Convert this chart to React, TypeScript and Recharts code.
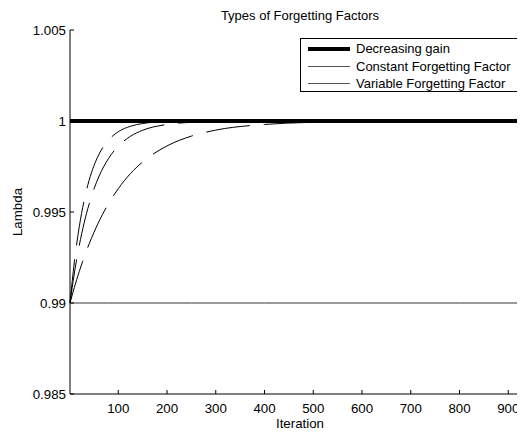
import React from "react";
import { LineChart, Line, XAxis, YAxis } from "recharts";

// iteration sample points
const iterations = [1, 10, 20, 30, 40, 50, 60, 80, 100, 125, 150, 200, 250, 300, 400, 500, 600, 700, 800, 900, 1000];
const decreasingGain = [1, 1, 1, 1, 1, 1, 1, 1, 1, 1, 1, 1, 1, 1, 1, 1, 1, 1, 1, 1, 1];
const constantFF = [0.99, 0.99, 0.99, 0.99, 0.99, 0.99, 0.99, 0.99, 0.99, 0.99, 0.99, 0.99, 0.99, 0.99, 0.99, 0.99, 0.99, 0.99, 0.99, 0.99, 0.99];
const variableFast = [0.99, 0.99227, 0.99419, 0.99563, 0.99672, 0.99753, 0.99815, 0.99895, 0.99941, 0.99971, 0.99986, 0.99997, 1, 1, 1, 1, 1, 1, 1, 1, 1];
const variableMid = [0.99, 0.99165, 0.99316, 0.9944, 0.99542, 0.99625, 0.99693, 0.99794, 0.99862, 0.99916, 0.99949, 0.99981, 0.99993, 0.99998, 1, 1, 1, 1, 1, 1, 1];
const variableSlow = [0.99, 0.99086, 0.99173, 0.99252, 0.99323, 0.99387, 0.99446, 0.99546, 0.99628, 0.99711, 0.99775, 0.99863, 0.99917, 0.9995, 0.99981, 0.99993, 0.99998, 1, 1, 1, 1];

const xTicks = [100, 200, 300, 400, 500, 600, 700, 800, 900];
const yTicks = [0.985, 0.99, 0.995, 1, 1.005];
const yTickLabels = ["0.985", "0.99", "0.995", "1", "1.005"];
const legendNames = ["Decreasing gain", "Constant Forgetting Factor", "Variable Forgetting Factor"];

const data = iterations.map((it, i) => ({
  it,
  gain: decreasingGain[i],
  constant: constantFF[i],
  fast: variableFast[i],
  mid: variableMid[i],
  slow: variableSlow[i],
}));

const FONT = "'Liberation Sans', Arial, sans-serif";
const FS = 13.3;
const PLOT_LEFT = 62;
const PLOT_BOTTOM = 386;

const YTick = (props: any) => {
  const { y, payload } = props;
  const idx = yTicks.indexOf(payload.value);
  return (
    <g>
      <line x1={PLOT_LEFT} x2={PLOT_LEFT + 4} y1={y} y2={y} stroke="#000" />
      <text x={PLOT_LEFT - 4} y={y} dy={4.5} textAnchor="end" fontSize={FS} fontFamily={FONT} fill="#000">
        {idx >= 0 ? yTickLabels[idx] : payload.value}
      </text>
    </g>
  );
};

const XTick = (props: any) => {
  const { x, payload } = props;
  return (
    <g>
      <line x1={x} x2={x} y1={PLOT_BOTTOM} y2={PLOT_BOTTOM - 4} stroke="#000" />
      <text x={x} y={PLOT_BOTTOM + 19} textAnchor="middle" fontSize={FS} fontFamily={FONT} fill="#000">
        {payload.value}
      </text>
    </g>
  );
};

const LegendBox = () => (
  <div
    style={{
      position: "absolute",
      left: 292,
      top: 30,
      border: "1px solid #000",
      background: "#fff",
      width: 224,
      height: 54,
      boxSizing: "border-box",
      fontFamily: FONT,
      fontSize: 13,
      padding: "1px 0 0 7px",
    }}
  >
    {legendNames.map((name, i) => (
      <div key={name} style={{ display: "flex", alignItems: "center", height: 17.5, whiteSpace: "nowrap" }}>
        <div
          style={{
            width: 42,
            height: 0,
            borderTop: i === 0 ? "4px solid #000" : "1px solid #555",
            marginRight: 6,
          }}
        />
        <span>{name}</span>
      </div>
    ))}
  </div>
);

export default function App() {
  return (
    <div style={{ width: 517, height: 427, overflow: "hidden", position: "relative" }}>
      <LineChart
        width={560}
        height={427}
        data={data}
        margin={{ top: 22, right: 11, bottom: 0, left: 0 }}
      >
        <XAxis
          dataKey="it"
          type="number"
          domain={[1, 1000]}
          ticks={xTicks}
          tick={<XTick />}
          tickLine={false}
          height={41}
          axisLine={{ stroke: "#000" }}
        />
        <YAxis
          type="number"
          domain={[0.985, 1.005]}
          ticks={yTicks}
          tick={<YTick />}
          tickLine={false}
          width={62}
          axisLine={{ stroke: "#000" }}
          allowDataOverflow
        />
        <Line dataKey="constant" stroke="#333" strokeWidth={1} dot={false} isAnimationActive={false} />
        <Line dataKey="slow" type="monotone" stroke="#000" strokeWidth={1} strokeDasharray="44 14" dot={false} isAnimationActive={false} />
        <Line dataKey="mid" type="monotone" stroke="#000" strokeWidth={1} strokeDasharray="44 14" dot={false} isAnimationActive={false} />
        <Line dataKey="fast" type="monotone" stroke="#000" strokeWidth={1} strokeDasharray="44 14" dot={false} isAnimationActive={false} />
        <Line dataKey="gain" stroke="#000" strokeWidth={4} dot={false} isAnimationActive={false} />
        <text x={292} y={12} textAnchor="middle" fontSize={13} fontFamily={FONT}>
          Types of Forgetting Factors
        </text>
        <text x={292} y={416} textAnchor="middle" fontSize={FS} fontFamily={FONT} dominantBaseline="middle">
          Iteration
        </text>
        <text
          x={10}
          y={204}
          textAnchor="middle"
          fontSize={FS}
          fontFamily={FONT}
          dominantBaseline="middle"
          transform="rotate(-90 10 204)"
        >
          Lambda
        </text>
      </LineChart>
      <LegendBox />
    </div>
  );
}
